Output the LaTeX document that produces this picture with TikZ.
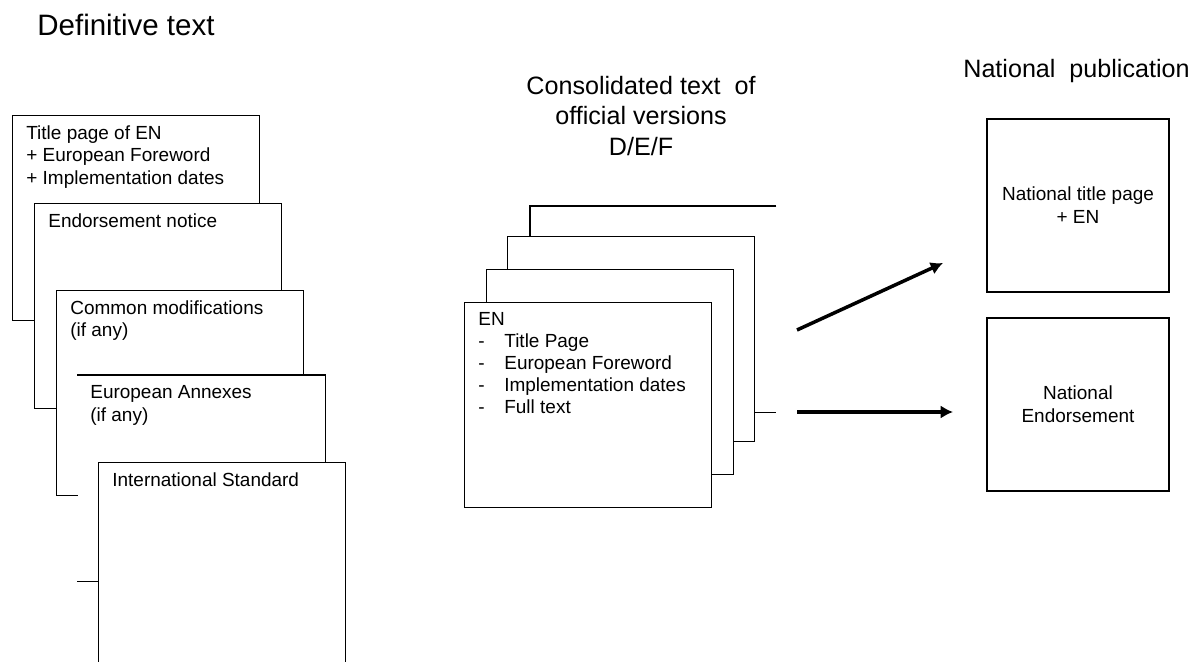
\documentclass[tikz,border=0pt]{standalone}
\usepackage{fontspec}
\setmainfont{Liberation Sans}
\usetikzlibrary{arrows.meta,positioning}

\newcommand{\dashitem}[1]{\makebox[14.8pt][l]{-}#1}

\begin{document}
\begin{tikzpicture}[x=0.02cm,y=-0.02cm,>={Latex[length=7pt,width=7.5pt]},
	pageline/.style={line width=0.8pt},
	page/.style={pageline,draw,fill=white,anchor=north west,inner sep=0pt,
		minimum width=4.94cm,minimum height=4.1cm},
	pagetext/.style={anchor=north west,align=left,inner sep=0pt,
		font=\fontsize{10.8}{13}\selectfont},
	natpage/.style={pageline,draw,align=center,inner sep=0pt,
		minimum width=3.64cm,minimum height=3.46cm,
		font=\fontsize{10.8}{13}\selectfont},
	head/.style={inner sep=0pt,align=center,font=\fontsize{14.3}{17.6}\selectfont}]

\useasboundingbox (0,0) rectangle (1200,662);
\clip (0,0) rectangle (1200,662);

% definitive text
\node[inner sep=0pt,anchor=west,font=\fontsize{16.8}{20}\selectfont]
	(deftitle) at (37,25) {Definitive text};

\node[page] (p1) at (12,115) {};
\node[pagetext] (p1text) at ([shift={(14,10)}]p1.north west)
	{Title page of EN\\+ European Foreword\\+ Implementation dates};

\node[page] (p2) at (34,203) {};
\node[pagetext] (p2text) at ([shift={(14,10)}]p2.north west) {Endorsement notice};

\node[page] (p3) at (56,290) {};
\node[pagetext] (p3text) at ([shift={(14,10)}]p3.north west)
	{Common modifications\\(if any)};

\node[page,draw=none] (p4) at (77,375) {};
\draw[pageline] (p4.north west) -- (p4.north east) -- (p4.south east) -- (p4.south west);
\node[pagetext] (p4text) at ([shift={(13,10)}]p4.north west)
	{European Annexes\\(if any)};

\node[page] (p5) at (98,462) {};
\node[pagetext] (p5text) at ([shift={(14,10)}]p5.north west) {International Standard};

% consolidated text
\node[head] (constitle) at (641,116)
	{Consolidated text\ \ of\\official versions\\D/E/F};

\node[page,draw=none,minimum width=4.9cm] (m4) at (530,206) {};
\draw[pageline] (m4.north east) -- (m4.north west) -- (m4.south west) -- (m4.south east);

\foreach \n/\x/\y in {m3/507/236,m2/486/269}{
	\node[page] (\n) at (\x,\y) {};
}

\node[page] (m1) at (464,302) {};
\node[pagetext,font=\fontsize{10.8}{12.6}\selectfont] (m1text)
	at ([shift={(14,10)}]m1.north west)
	{EN\\\dashitem{Title Page}\\\dashitem{European Foreword}\\
	\dashitem{Implementation dates}\\\dashitem{Full text}};

% national publication
\node[head,anchor=west] (nattitle) at (963,71) {National\ \ publication};

\node[natpage] (n1) at (1078,205.5) {National title page\\+ EN};
\node[natpage] (n2) at (1078,404.5) {National\\Endorsement};

\coordinate (u0) at (797,330);
\coordinate (u1) at (943,263);
\coordinate (l0) at (797,412);
\coordinate (l1) at (953,412);

\draw[->,line width=2pt] (u0) -- (u1);
\draw[->,line width=2pt] (l0) -- (l1);

\end{tikzpicture}
\end{document}
